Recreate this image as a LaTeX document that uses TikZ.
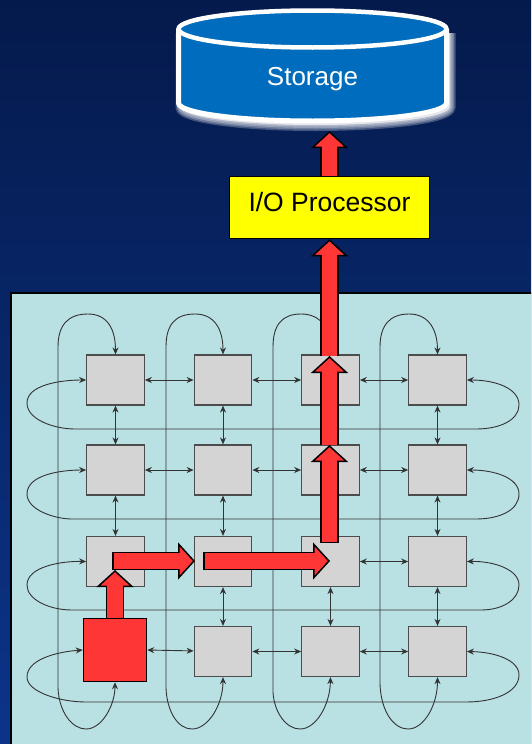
\documentclass[tikz,border=0pt]{standalone}
\usepackage{fontspec}
\setmainfont{Liberation Sans}
\usepackage{xcolor}
\usetikzlibrary{arrows.meta}
\definecolor{skytop}{HTML}{051A4C}
\definecolor{skybot}{HTML}{0B3489}
\definecolor{panel}{HTML}{B9E0E3}
\definecolor{cellgray}{HTML}{D4D4D4}
\definecolor{hotred}{HTML}{FF3636}
\definecolor{diskblue}{HTML}{006CBD}
\definecolor{ioyellow}{HTML}{FFFF00}
\newcommand{\diskbody}{(178.5,29) -- (178.5,103) arc[start angle=180,end angle=0,x radius=134,y radius=18] -- (446.5,29)}
\tikzset{
  cell/.style   ={draw=black!70, fill=cellgray, line width=1.2pt, minimum width=57.5pt, minimum height=50pt, inner sep=0pt},
  hotcell/.style={draw=black, fill=hotred, line width=1.5pt, minimum width=63pt, minimum height=63pt, inner sep=0pt},
  iobox/.style  ={draw=black, fill=ioyellow, line width=1.5pt, minimum width=200pt, minimum height=62pt, inner sep=0pt},
  disk/.style   ={draw=white, line width=5pt, fill=diskblue},
  glow/.style   ={draw=white, fill=white, opacity=0.25, shift={(3pt,-4pt)}},
  link/.style   ={{Stealth[length=7pt,width=6pt]}-{Stealth[length=7pt,width=6pt]}, line width=0.9pt, draw=black!80},
  fatopen/.style={double=hotred, double distance=15.5pt, line width=1.5pt, draw=black,
                  -{Triangle[length=17pt,width=37pt,fill=hotred,color=black,line width=1.5pt]},
                  postaction={draw=hotred, double=none, line width=15.5pt, -, shorten >=11pt, shorten <=1.5pt}},
  fat/.style    ={fatopen, {Bar[width=18.5pt,line width=1.5pt]}-{Triangle[length=17pt,width=37pt,fill=hotred,color=black,line width=1.5pt]}},
}
\begin{document}
\begin{tikzpicture}[x=1pt,y=-1pt]
  \useasboundingbox (0,0) rectangle (531,744);
  \clip (0,0) rectangle (531,744);
  \shade[top color=skytop, bottom color=skybot] (0,0) rectangle (531,744);

  % Storage with its soft white edge
  \path[glow, line width=12pt] \diskbody;
  \path[glow, line width=9pt] \diskbody;
  \path[glow, line width=6pt] \diskbody;
  \path[glow, line width=3pt] \diskbody;
  \path[disk] \diskbody;
  \path[disk, line width=4.5pt] (312.5,29) ellipse[x radius=134, y radius=18.5];
  \node[text=white, font=\fontsize{26}{30}\selectfont, inner sep=0pt] (storage) at (312.5,79) {Storage};
  \coordinate (storagein) at (329.5,131);

  \node[iobox] (proc) at (329.5,207.5) {};
  \node[font=\fontsize{26.5}{30}\selectfont, inner sep=0pt] (proclabel) at (329.5,202) {I/O Processor};

  % Network panel
  \draw[fill=panel, line width=1.5pt] (11,293) rectangle (540,750);

  \node[cell] (r1c1) at (115.5,380) {};
  \node[cell] (r1c2) at (223,380) {};
  \node[cell] (r1c3) at (330.5,380) {};
  \node[cell] (r1c4) at (437.5,380) {};
  \node[cell] (r2c1) at (115.5,470) {};
  \node[cell] (r2c2) at (223,470) {};
  \node[cell] (r2c3) at (330.5,470) {};
  \node[cell] (r2c4) at (437.5,470) {};
  \node[cell] (r3c1) at (115.5,561.5) {};
  \node[cell] (r3c2) at (223,561.5) {};
  \node[cell] (r3c3) at (330.5,561.5) {};
  \node[cell] (r3c4) at (437.5,561.5) {};
  \node[hotcell] (r4c1) at (115,650) {};
  \node[cell] (r4c2) at (223,651.5) {};
  \node[cell] (r4c3) at (330.5,651.5) {};
  \node[cell] (r4c4) at (437.5,651.5) {};

  % Neighbour links, rows
  \draw[link] (r1c1) -- (r1c2);
  \draw[link] (r1c2) -- (r1c3);
  \draw[link] (r1c3) -- (r1c4);
  \draw[link] (r2c1) -- (r2c2);
  \draw[link] (r2c2) -- (r2c3);
  \draw[link] (r2c3) -- (r2c4);
  \draw[link] (r3c3) -- (r3c4);
  \draw[link] (r4c1.east) -- (r4c2);
  \draw[link] (r4c2) -- (r4c3);
  \draw[link] (r4c3) -- (r4c4);
  % Neighbour links, columns
  \draw[link] (r1c1) -- (r2c1);
  \draw[link] (r2c1) -- (r3c1);
  \draw[link] (r1c2) -- (r2c2);
  \draw[link] (r2c2) -- (r3c2);
  \draw[link] (r3c2) -- (r4c2);
  \draw[link] (r3c3) -- (r4c3);
  \draw[link] (r1c4) -- (r2c4);
  \draw[link] (r2c4) -- (r3c4);
  \draw[link] (r3c4) -- (r4c4);

  % Wrap-around links, rows
  \draw[link] (r1c1.west) .. controls (60,380) and (27,385) .. (27,403) .. controls (27,420) and (55,429) .. (75,429) -- (476,429) .. controls (500,429) and (519,420) .. (519,405) .. controls (519,388) and (495,380) .. (r1c4.east);
  \draw[link] (r2c1.west) .. controls (60,470) and (27,475) .. (27,494) .. controls (27,510) and (55,519) .. (72,519) -- (476,519) .. controls (500,519) and (519,510) .. (519,494) .. controls (519,478) and (495,470) .. (r2c4.east);
  \draw[link] (r3c1.west) .. controls (60,561) and (27,567) .. (27,585) .. controls (27,600) and (50,610) .. (72,610) -- (481,610) .. controls (502,610) and (519,600) .. (519,585) .. controls (519,570) and (495,561) .. (r3c4.east);
  \draw[link] (r4c1.west) .. controls (55,652) and (27,660) .. (27,677) .. controls (27,692) and (60,702) .. (86,702) -- (466,702) .. controls (495,702) and (519,692) .. (519,675) .. controls (519,660) and (495,652) .. (r4c4.east);

  % Wrap-around links, columns
  \draw[link] (r1c1.north) .. controls (115.5,330) and (108,314) .. (88,314) .. controls (68,314) and (58,325) .. (58,347) -- (58,688) .. controls (59,712) and (72,729) .. (86,729) .. controls (102,729) and (115,705) .. (r4c1.south);
  \draw[link] (r1c2.north) .. controls (223,330) and (215,314) .. (195,314) .. controls (175,314) and (166,325) .. (166,347) -- (166,688) .. controls (167,712) and (178,729) .. (192,729) .. controls (208,729) and (223,705) .. (r4c2.south);
  \draw[link] (r1c3.north) .. controls (330.5,330) and (322,314) .. (301,314) .. controls (282,314) and (273,325) .. (273,347) -- (273,692) .. controls (274,712) and (286,729) .. (300,729) .. controls (316,729) and (330,705) .. (r4c3.south);
  \draw[link] (r1c4.north) .. controls (437.5,330) and (429,314) .. (409,314) .. controls (390,314) and (380,325) .. (380,347) -- (380,684) .. controls (381,712) and (394,729) .. (408,729) .. controls (424,729) and (437.5,705) .. (r4c4.south);

  % Route through the network
  \coordinate (hopa) at (112,561);
  \coordinate (hopb) at (195,561);
  \coordinate (hopc) at (203,561);
  \coordinate (hopd) at (330,561);
  \coordinate (hope) at (329.5,543);
  \coordinate (hopf) at (329.5,445);
  \coordinate (hopg) at (329.5,356);
  \coordinate (hoph) at (115,570);
  \draw[fat] (hopa) -- (hopb);
  \draw[fat] (hopc) -- (hopd);
  \draw[fatopen] (r4c1.north) -- (hoph);
  \draw[fatopen] (hopg) -- (proc.south);
  \draw[fatopen] (hopf) -- (hopg);
  \draw[fat] (hope) -- (hopf);
  \draw[fatopen] (proc.north) -- (storagein);
\end{tikzpicture}
\end{document}
